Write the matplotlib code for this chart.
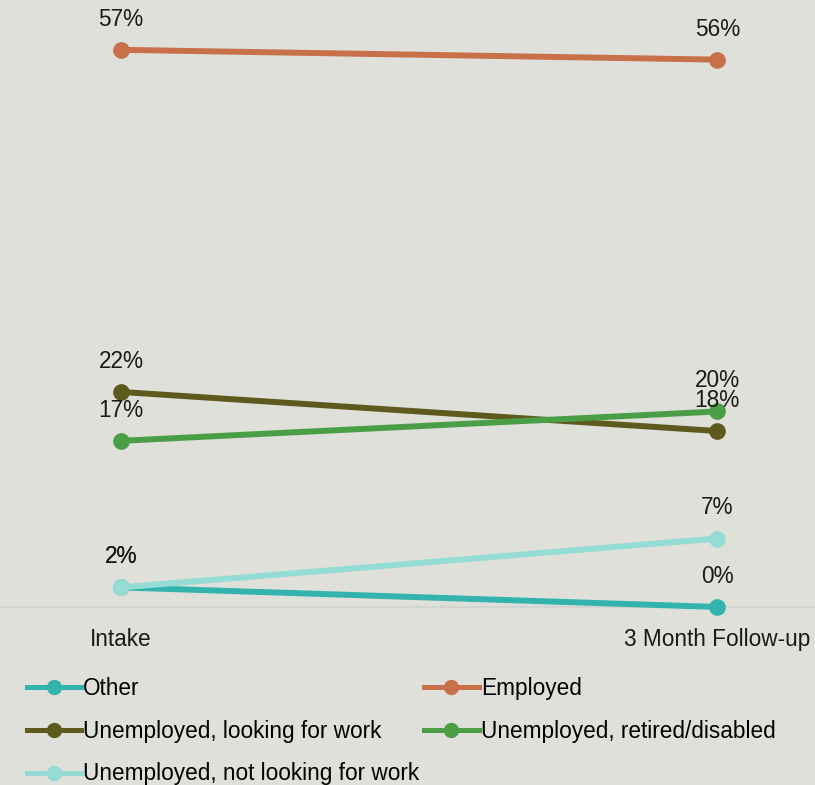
import matplotlib.pyplot as plt
from matplotlib.lines import Line2D

plt.rcParams['font.family'] = ['Liberation Sans', 'DejaVu Sans']

periods = ['Intake', '3 Month Follow-up']
other = [2, 0]
employed = [57, 56]
unemp_looking = [22, 18]
unemp_retired = [17, 20]
unemp_not_looking = [2, 7]

series = [
    ('Other', other, '#33b3ad'),
    ('Employed', employed, '#c8704a'),
    ('Unemployed, looking for work', unemp_looking, '#5e5a1e'),
    ('Unemployed, retired/disabled', unemp_retired, '#4a9e46'),
    ('Unemployed, not looking for work', unemp_not_looking, '#94dcd4'),
]

bg = '#e0e0db'
fs = 16.3
fig = plt.figure(figsize=(8.15, 7.85), dpi=100, facecolor=bg)
ax = fig.add_axes([0, 0.2268, 1, 0.7732], facecolor=bg)

xs = list(range(len(periods)))
for name, vals, col in series:
    ax.plot(xs, vals, color=col, lw=4.3, marker='o', ms=11, solid_capstyle='round',
            clip_on=False, zorder=3)
    for x, v in zip(xs, vals):
        ax.annotate('{}%'.format(v), (x, v), xytext=(0, 22), textcoords='offset points',
                    ha='center', va='center', fontsize=fs, color='#1a1a1a', zorder=4)

ax.set_xlim(-0.203, 1.164)
ax.set_ylim(0, 62.1)
ax.set_xticks(xs)
ax.set_xticklabels(periods, fontsize=fs, color='#1a1a1a')
ax.tick_params(axis='x', length=0, pad=15)
ax.set_yticks([])
for s in ['top', 'left', 'right']:
    ax.spines[s].set_visible(False)
ax.spines['bottom'].set_color('#d3d3cf')
ax.spines['bottom'].set_linewidth(1.5)

# legend: column-major fill, so order gives rows Other/Employed, looking/retired, not looking
order = [0, 2, 4, 1, 3]
handles = [Line2D([], [], color=series[i][2], lw=3.6, marker='o', ms=10) for i in order]
labels = [series[i][0] for i in order]
fig.legend(handles, labels, loc='upper left', bbox_to_anchor=(0.0215, 0.149), ncol=2,
           frameon=False, fontsize=fs, handlelength=2.4, handletextpad=0.1,
           columnspacing=0.22, labelspacing=0.87, borderaxespad=0)

fig.savefig('out.png', dpi=100, facecolor=bg)
